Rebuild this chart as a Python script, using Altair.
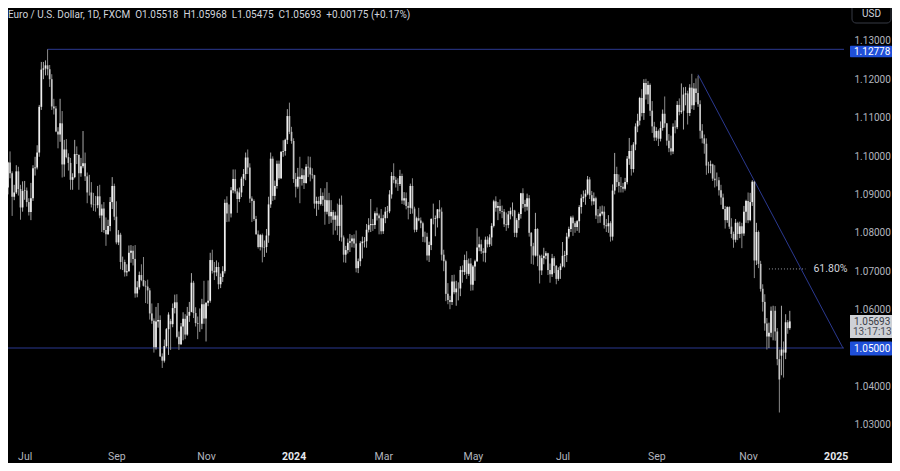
import altair as alt
import numpy as np
import pandas as pd

# ---------------- data (EUR/USD daily, FXCM) ----------------
opens = [
    1.0922, 1.0918, 1.0983, 1.0955,
    1.0894, 1.0905, 1.0960, 1.0914, 1.0866,
    1.0909, 1.0910, 1.0880, 1.0854, 1.0890,
    1.0968, 1.0970, 1.1009, 1.1128, 1.1225,
    1.1228, 1.1236, 1.1226, 1.1200, 1.1129,
    1.1124, 1.1064, 1.1056, 1.1085, 1.0978,
    1.1017, 1.0997, 1.0982, 1.0938, 1.0945,
    1.1005, 1.1003, 1.0955, 1.0973, 1.0981,
    1.0947, 1.0905, 1.0905, 1.0874, 1.0873,
    1.0872, 1.0895, 1.0845, 1.0863, 1.0807,
    1.0796, 1.0818, 1.0880, 1.0922, 1.0842,
    1.0775, 1.0795, 1.0724, 1.0724, 1.0697,
    1.0700, 1.0748, 1.0753, 1.0732, 1.0642,
    1.0658, 1.0690, 1.0677, 1.0662, 1.0660,
    1.0650, 1.0590, 1.0571, 1.0502, 1.0569,
    1.0573, 1.0478, 1.0467, 1.0505, 1.0549,
    1.0570, 1.0562, 1.0604, 1.0619, 1.0529,
    1.0510, 1.0556, 1.0576, 1.0535, 1.0584,
    1.0594, 1.0670, 1.0591, 1.0565, 1.0563,
    1.0563, 1.0614, 1.0577, 1.0618, 1.0623,
    1.0729, 1.0701, 1.0697, 1.0711, 1.0666,
    1.0685, 1.0700, 1.0878, 1.0850, 1.0850,
    1.0911, 1.0940, 1.0908, 1.0888, 1.0905,
    1.0941, 1.0953, 1.0996, 1.0970, 1.0889,
    1.0883, 1.0836, 1.0796, 1.0763, 1.0794,
    1.0762, 1.0763, 1.0793, 1.0874, 1.0993,
    1.0896, 1.0922, 1.0980, 1.0942, 1.1011,
    1.1013, 1.1042, 1.1104, 1.1063,
    1.1039, 1.0940, 1.0920, 1.0946,
    1.0940, 1.0950, 1.0930, 1.0972, 1.0970,
    1.0952, 1.0950, 1.0876, 1.0883, 1.0875,
    1.0896, 1.0886, 1.0855, 1.0885, 1.0843,
    1.0854, 1.0834, 1.0845, 1.0818, 1.0873,
    1.0788, 1.0743, 1.0755, 1.0774, 1.0778,
    1.0785, 1.0772, 1.0708, 1.0726, 1.0773,
    1.0777, 1.0778, 1.0808, 1.0820, 1.0823,
    1.0820, 1.0851, 1.0845, 1.0838, 1.0804,
    1.0838, 1.0855, 1.0856, 1.0900, 1.0948,
    1.0938, 1.0928, 1.0927, 1.0948, 1.0884,
    1.0890, 1.0870, 1.0865, 1.0922, 1.0863,
    1.0808, 1.0838, 1.0832, 1.0825, 1.0790,
    1.0790, 1.0741, 1.0768, 1.0836, 1.0836,
    1.0838, 1.0861, 1.0855, 1.0743, 1.0726,
    1.0641, 1.0625, 1.0620, 1.0673, 1.0645,
    1.0655, 1.0655, 1.0703, 1.0698, 1.0729,
    1.0693, 1.0720, 1.0665, 1.0712, 1.0726,
    1.0762, 1.0770, 1.0752, 1.0748, 1.0782,
    1.0770, 1.0788, 1.0818, 1.0882, 1.0865,
    1.0870, 1.0857, 1.0855, 1.0822, 1.0820,
    1.0848, 1.0857, 1.0858, 1.0800, 1.0833,
    1.0849, 1.0903, 1.0875, 1.0868, 1.0890,
    1.0800, 1.0765, 1.0741, 1.0810, 1.0740,
    1.0702, 1.0734, 1.0740, 1.0747, 1.0703,
    1.0692, 1.0734, 1.0714, 1.0680, 1.0703,
    1.0713, 1.0740, 1.0742, 1.0790, 1.0810,
    1.0840, 1.0825, 1.0815, 1.0830, 1.0867,
    1.0890, 1.0894, 1.0902, 1.0939, 1.0898,
    1.0882, 1.0890, 1.0845, 1.0843, 1.0850,
    1.0855, 1.0820, 1.0817, 1.0825, 1.0790,
    1.0910, 1.0953, 1.0932, 1.0922, 1.0920,
    1.0915, 1.0932, 1.0993, 1.1013, 1.0966,
    1.1030, 1.1077, 1.1092, 1.1151, 1.1112,
    1.1190, 1.1160, 1.1185, 1.1118, 1.1077,
    1.1048, 1.1065, 1.1045, 1.1073, 1.1110,
    1.1085, 1.1040, 1.1020, 1.1012, 1.1076,
    1.1075, 1.1133, 1.1115, 1.1118, 1.1160,
    1.1163, 1.1112, 1.1178, 1.1132, 1.1176,
    1.1164, 1.1135, 1.1066, 1.1046, 1.1032,
    1.0975, 1.0975, 1.0978, 1.0941, 1.0937,
    1.0937, 1.0911, 1.0892, 1.0862, 1.0833,
    1.0867, 1.0816, 1.0797, 1.0782, 1.0826,
    1.0797, 1.0817, 1.0798, 1.0855, 1.0883,
    1.0833, 1.0880, 1.0933, 1.0728, 1.0802,
    1.0719, 1.0654, 1.0620, 1.0564, 1.0530,
    1.0540, 1.0597, 1.0597, 1.0543, 1.0471,
    1.0480, 1.0496, 1.0488, 1.0567, 1.05518,
]
highs = [
    1.0935, 1.0985, 1.1012, 1.0960,
    1.0925, 1.0976, 1.0972, 1.0925, 1.0934,
    1.0935, 1.0918, 1.0890, 1.0930, 1.0976,
    1.0998, 1.1028, 1.1133, 1.1245, 1.1245,
    1.1249, 1.12778, 1.1237, 1.1213, 1.1149,
    1.1130, 1.1075, 1.1149, 1.1117, 1.1042,
    1.1044, 1.1007, 1.0995, 1.0955, 1.1042,
    1.1025, 1.1003, 1.0995, 1.1065, 1.1009,
    1.0957, 1.0951, 1.0932, 1.0904, 1.0896,
    1.0922, 1.0925, 1.0874, 1.0880, 1.0840,
    1.0834, 1.0893, 1.0945, 1.0928, 1.0882,
    1.0807, 1.0800, 1.0738, 1.0730, 1.0718,
    1.0767, 1.0768, 1.0766, 1.0768, 1.0674,
    1.0699, 1.0718, 1.0737, 1.0675, 1.0678,
    1.0656, 1.0616, 1.0577, 1.0607, 1.0617,
    1.0585, 1.0486, 1.0522, 1.0552, 1.0593,
    1.0576, 1.0616, 1.0639, 1.0640, 1.0543,
    1.0565, 1.0593, 1.0588, 1.0607, 1.0620,
    1.0695, 1.0675, 1.0606, 1.0582, 1.0603,
    1.0628, 1.0675, 1.0619, 1.0676, 1.0748,
    1.0756, 1.0724, 1.0728, 1.0723, 1.0694,
    1.0713, 1.0887, 1.0895, 1.0874, 1.0919,
    1.0965, 1.0965, 1.0915, 1.0918, 1.0946,
    1.0966, 1.1009, 1.1017, 1.0981, 1.0895,
    1.0887, 1.0844, 1.0806, 1.0797, 1.0798,
    1.0780, 1.0810, 1.0894, 1.1009, 1.0999,
    1.0936, 1.0988, 1.0988, 1.1012, 1.1041,
    1.1045, 1.1122, 1.1139, 1.1076,
    1.1046, 1.0956, 1.0969, 1.0998,
    1.0968, 1.0965, 1.0979, 1.0999, 1.0998,
    1.0968, 1.0951, 1.0894, 1.0894, 1.0916,
    1.0905, 1.0916, 1.0932, 1.0904, 1.0885,
    1.0859, 1.0855, 1.0876, 1.0889, 1.0897,
    1.0793, 1.0766, 1.0785, 1.0797, 1.0794,
    1.0796, 1.0806, 1.0733, 1.0778, 1.0790,
    1.0789, 1.0823, 1.0838, 1.0888, 1.0836,
    1.0856, 1.0866, 1.0850, 1.0862, 1.0847,
    1.0867, 1.0870, 1.0911, 1.0958, 1.0981,
    1.0946, 1.0942, 1.0964, 1.0954, 1.0906,
    1.0905, 1.0880, 1.0928, 1.0942, 1.0868,
    1.0842, 1.0865, 1.0840, 1.0829, 1.0803,
    1.0800, 1.0777, 1.0838, 1.0876, 1.0845,
    1.0862, 1.0885, 1.0866, 1.0756, 1.0730,
    1.0669, 1.0636, 1.0690, 1.0691, 1.0675,
    1.0671, 1.0713, 1.0715, 1.0743, 1.0752,
    1.0733, 1.0734, 1.0716, 1.0730, 1.0812,
    1.0790, 1.0782, 1.0760, 1.0790, 1.0791,
    1.0796, 1.0825, 1.0886, 1.0895, 1.0880,
    1.0887, 1.0871, 1.0862, 1.0853, 1.0857,
    1.0866, 1.0879, 1.0860, 1.0838, 1.0853,
    1.0904, 1.0916, 1.0886, 1.0902, 1.0898,
    1.0802, 1.0774, 1.0852, 1.0812, 1.0743,
    1.0743, 1.0761, 1.0752, 1.0748, 1.0720,
    1.0745, 1.0739, 1.0716, 1.0710, 1.0720,
    1.0776, 1.0753, 1.0800, 1.0816, 1.0844,
    1.0845, 1.0830, 1.0833, 1.0872, 1.0900,
    1.0910, 1.0912, 1.0948, 1.0945, 1.0909,
    1.0905, 1.0894, 1.0862, 1.0869, 1.0871,
    1.0869, 1.0836, 1.0846, 1.0830, 1.0926,
    1.1008, 1.0972, 1.0952, 1.0945, 1.0930,
    1.0943, 1.1000, 1.1047, 1.1028, 1.1036,
    1.1085, 1.1110, 1.1154, 1.1174, 1.1200,
    1.1201, 1.1195, 1.1189, 1.1143, 1.1089,
    1.1075, 1.1069, 1.1090, 1.1121, 1.1155,
    1.1086, 1.1057, 1.1053, 1.1085, 1.1093,
    1.1143, 1.1150, 1.1189, 1.1179, 1.1180,
    1.1170, 1.1187, 1.1214, 1.1190, 1.1202,
    1.1209, 1.1145, 1.1083, 1.1056, 1.1046,
    1.0985, 1.0988, 1.0980, 1.0976, 1.0957,
    1.0945, 1.0925, 1.0902, 1.0870, 1.0869,
    1.0869, 1.0838, 1.0803, 1.0836, 1.0829,
    1.0829, 1.0826, 1.0870, 1.0886, 1.0905,
    1.0904, 1.0937, 1.0935, 1.0826, 1.0806,
    1.0727, 1.0666, 1.0640, 1.0578, 1.0566,
    1.0608, 1.0610, 1.0609, 1.0552, 1.0496,
    1.0610, 1.0517, 1.0588, 1.0573, 1.05968,
]
lows = [
    1.0896, 1.0900, 1.0942, 1.0844,
    1.0885, 1.0901, 1.0897, 1.0834, 1.0855,
    1.0886, 1.0868, 1.0845, 1.0833, 1.0883,
    1.0949, 1.0965, 1.0998, 1.1120, 1.1200,
    1.1210, 1.1210, 1.1180, 1.1120, 1.1108,
    1.1062, 1.1020, 1.1037, 1.0944, 1.0946,
    1.0994, 1.0962, 1.0912, 1.0912, 1.0942,
    1.0979, 1.0912, 1.0946, 1.0968, 1.0935,
    1.0877, 1.0897, 1.0866, 1.0857, 1.0855,
    1.0864, 1.0838, 1.0802, 1.0800, 1.0766,
    1.0795, 1.0804, 1.0862, 1.0833, 1.0770,
    1.0768, 1.0705, 1.0703, 1.0686, 1.0687,
    1.0699, 1.0722, 1.0715, 1.0631, 1.0632,
    1.0652, 1.0674, 1.0660, 1.0617, 1.0615,
    1.0574, 1.0563, 1.0488, 1.0496, 1.0553,
    1.0477, 1.0448, 1.0462, 1.0501, 1.0482,
    1.0495, 1.0554, 1.0590, 1.0525, 1.0495,
    1.0508, 1.0520, 1.0523, 1.0532, 1.0568,
    1.0593, 1.0578, 1.0556, 1.0523, 1.0542,
    1.0549, 1.0563, 1.0517, 1.0609, 1.0618,
    1.0694, 1.0677, 1.0687, 1.0653, 1.0656,
    1.0672, 1.0694, 1.0828, 1.0829, 1.0840,
    1.0903, 1.0902, 1.0852, 1.0880, 1.0893,
    1.0922, 1.0937, 1.0953, 1.0878, 1.0828,
    1.0831, 1.0795, 1.0759, 1.0754, 1.0723,
    1.0737, 1.0748, 1.0774, 1.0865, 1.0883,
    1.0886, 1.0915, 1.0938, 1.0940, 1.0998,
    1.1001, 1.1031, 1.1057, 1.1032,
    1.0930, 1.0892, 1.0915, 1.0877,
    1.0923, 1.0914, 1.0928, 1.0945, 1.0934,
    1.0941, 1.0863, 1.0844, 1.0860, 1.0871,
    1.0870, 1.0821, 1.0848, 1.0823, 1.0826,
    1.0795, 1.0806, 1.0794, 1.0779, 1.0777,
    1.0723, 1.0722, 1.0746, 1.0750, 1.0762,
    1.0761, 1.0697, 1.0695, 1.0713, 1.0733,
    1.0762, 1.0761, 1.0801, 1.0802, 1.0805,
    1.0810, 1.0832, 1.0796, 1.0796, 1.0797,
    1.0825, 1.0838, 1.0851, 1.0889, 1.0929,
    1.0918, 1.0909, 1.0922, 1.0875, 1.0873,
    1.0861, 1.0835, 1.0849, 1.0850, 1.0801,
    1.0802, 1.0830, 1.0812, 1.0776, 1.0775,
    1.0728, 1.0724, 1.0755, 1.0822, 1.0791,
    1.0814, 1.0838, 1.0728, 1.0700, 1.0622,
    1.0614, 1.0601, 1.0612, 1.0640, 1.0610,
    1.0624, 1.0635, 1.0670, 1.0690, 1.0680,
    1.0688, 1.0649, 1.0650, 1.0675, 1.0724,
    1.0752, 1.0745, 1.0725, 1.0723, 1.0762,
    1.0763, 1.0766, 1.0814, 1.0855, 1.0833,
    1.0850, 1.0838, 1.0815, 1.0805, 1.0812,
    1.0835, 1.0843, 1.0789, 1.0788, 1.0812,
    1.0837, 1.0864, 1.0855, 1.0858, 1.0790,
    1.0719, 1.0717, 1.0738, 1.0713, 1.0668,
    1.0690, 1.0718, 1.0731, 1.0690, 1.0670,
    1.0685, 1.0695, 1.0666, 1.0675, 1.0680,
    1.0710, 1.0710, 1.0724, 1.0785, 1.0802,
    1.0792, 1.0800, 1.0805, 1.0800, 1.0850,
    1.0880, 1.0873, 1.0898, 1.0888, 1.0871,
    1.0873, 1.0836, 1.0825, 1.0826, 1.0845,
    1.0811, 1.0802, 1.0800, 1.0777, 1.0780,
    1.0900, 1.0919, 1.0905, 1.0905, 1.0905,
    1.0910, 1.0926, 1.0977, 1.0949, 1.0957,
    1.1015, 1.1062, 1.1080, 1.1103, 1.1094,
    1.1147, 1.1135, 1.1104, 1.1060, 1.1039,
    1.1040, 1.1026, 1.1038, 1.1066, 1.1074,
    1.1027, 1.1010, 1.1002, 1.1005, 1.1059,
    1.1070, 1.1106, 1.1110, 1.1069, 1.1132,
    1.1082, 1.1104, 1.1122, 1.1120, 1.1140,
    1.1128, 1.1045, 1.1033, 1.1006, 1.0951,
    1.0955, 1.0955, 1.0935, 1.0918, 1.0921,
    1.0897, 1.0873, 1.0861, 1.0811, 1.0826,
    1.0810, 1.0786, 1.0761, 1.0775, 1.0781,
    1.0786, 1.0760, 1.0792, 1.0826, 1.0825,
    1.0830, 1.0870, 1.0682, 1.0716, 1.0708,
    1.0647, 1.0595, 1.0545, 1.0496, 1.0500,
    1.0528, 1.0520, 1.0519, 1.0455, 1.0332,
    1.0429, 1.0423, 1.0471, 1.0537, 1.05475,
]
closes = [
    1.0918, 1.0983, 1.0955, 1.0894,
    1.0905, 1.0960, 1.0914, 1.0866, 1.0909,
    1.0910, 1.0880, 1.0854, 1.0890, 1.0968,
    1.0970, 1.1009, 1.1128, 1.1225, 1.1228,
    1.1236, 1.1226, 1.1200, 1.1129, 1.1124,
    1.1064, 1.1056, 1.1085, 1.0978, 1.1017,
    1.0997, 1.0982, 1.0938, 1.0945, 1.1005,
    1.1003, 1.0955, 1.0973, 1.0981, 1.0947,
    1.0905, 1.0905, 1.0874, 1.0873, 1.0872,
    1.0895, 1.0845, 1.0863, 1.0807, 1.0796,
    1.0818, 1.0880, 1.0922, 1.0842, 1.0775,
    1.0795, 1.0724, 1.0724, 1.0697, 1.0700,
    1.0748, 1.0753, 1.0732, 1.0642, 1.0658,
    1.0690, 1.0677, 1.0662, 1.0660, 1.0650,
    1.0590, 1.0571, 1.0502, 1.0569, 1.0573,
    1.0478, 1.0467, 1.0505, 1.0549, 1.0587,
    1.0562, 1.0604, 1.0619, 1.0529, 1.0510,
    1.0556, 1.0576, 1.0535, 1.0584, 1.0594,
    1.0670, 1.0591, 1.0565, 1.0563, 1.0563,
    1.0614, 1.0577, 1.0618, 1.0623, 1.0729,
    1.0701, 1.0697, 1.0711, 1.0666, 1.0685,
    1.0700, 1.0878, 1.0850, 1.0850, 1.0911,
    1.0940, 1.0908, 1.0888, 1.0905, 1.0941,
    1.0953, 1.0996, 1.0970, 1.0889, 1.0883,
    1.0836, 1.0796, 1.0763, 1.0794, 1.0762,
    1.0763, 1.0793, 1.0874, 1.0993, 1.0896,
    1.0922, 1.0980, 1.0942, 1.1011, 1.1013,
    1.1042, 1.1104, 1.1063, 1.1039,
    1.0940, 1.0920, 1.0946, 1.0940,
    1.0950, 1.0930, 1.0972, 1.0970, 1.0952,
    1.0950, 1.0876, 1.0883, 1.0875, 1.0896,
    1.0886, 1.0855, 1.0885, 1.0843, 1.0854,
    1.0834, 1.0845, 1.0818, 1.0873, 1.0788,
    1.0743, 1.0755, 1.0774, 1.0778, 1.0785,
    1.0772, 1.0708, 1.0726, 1.0773, 1.0777,
    1.0778, 1.0808, 1.0820, 1.0823, 1.0820,
    1.0851, 1.0845, 1.0838, 1.0804, 1.0838,
    1.0855, 1.0856, 1.0900, 1.0948, 1.0938,
    1.0928, 1.0927, 1.0948, 1.0884, 1.0890,
    1.0870, 1.0865, 1.0922, 1.0863, 1.0808,
    1.0838, 1.0832, 1.0825, 1.0790, 1.0790,
    1.0741, 1.0768, 1.0836, 1.0836, 1.0838,
    1.0861, 1.0855, 1.0743, 1.0726, 1.0641,
    1.0625, 1.0620, 1.0673, 1.0645, 1.0655,
    1.0655, 1.0703, 1.0698, 1.0729, 1.0693,
    1.0720, 1.0665, 1.0712, 1.0726, 1.0762,
    1.0770, 1.0752, 1.0748, 1.0782, 1.0770,
    1.0788, 1.0818, 1.0882, 1.0865, 1.0870,
    1.0857, 1.0855, 1.0822, 1.0820, 1.0848,
    1.0857, 1.0858, 1.0800, 1.0833, 1.0849,
    1.0903, 1.0875, 1.0868, 1.0890, 1.0800,
    1.0765, 1.0741, 1.0810, 1.0740, 1.0702,
    1.0734, 1.0740, 1.0747, 1.0703, 1.0692,
    1.0734, 1.0714, 1.0680, 1.0703, 1.0713,
    1.0740, 1.0742, 1.0790, 1.0810, 1.0840,
    1.0825, 1.0815, 1.0830, 1.0867, 1.0890,
    1.0894, 1.0902, 1.0939, 1.0898, 1.0882,
    1.0890, 1.0845, 1.0843, 1.0850, 1.0855,
    1.0820, 1.0817, 1.0825, 1.0790, 1.0910,
    1.0953, 1.0932, 1.0922, 1.0920, 1.0915,
    1.0932, 1.0993, 1.1013, 1.0966, 1.1030,
    1.1077, 1.1092, 1.1151, 1.1112, 1.1190,
    1.1160, 1.1185, 1.1118, 1.1077, 1.1048,
    1.1065, 1.1045, 1.1073, 1.1110, 1.1085,
    1.1040, 1.1020, 1.1012, 1.1076, 1.1075,
    1.1133, 1.1115, 1.1118, 1.1160, 1.1163,
    1.1112, 1.1178, 1.1132, 1.1176, 1.1164,
    1.1135, 1.1066, 1.1046, 1.1032, 1.0975,
    1.0975, 1.0978, 1.0941, 1.0937, 1.0937,
    1.0911, 1.0892, 1.0862, 1.0833, 1.0867,
    1.0816, 1.0797, 1.0782, 1.0826, 1.0797,
    1.0817, 1.0798, 1.0855, 1.0883, 1.0833,
    1.0880, 1.0933, 1.0728, 1.0802, 1.0719,
    1.0654, 1.0620, 1.0564, 1.0530, 1.0540,
    1.0597, 1.0597, 1.0543, 1.0471, 1.0418,
    1.0496, 1.0488, 1.0567, 1.05518, 1.05693,
]

first_session = "2023-06-20"
no_session_days = ["2023-12-25", "2024-01-01", "2024-12-25", "2025-01-01"]

price_ticks = [1.03, 1.04, 1.05, 1.06, 1.07, 1.08, 1.09, 1.10, 1.11, 1.12, 1.13]
month_ticks = ["2023-07", "2023-09", "2023-11", "2024-01", "2024-03",
               "2024-05", "2024-07", "2024-09", "2024-11", "2025-01"]

resistance_level = 1.12778
resistance_from = "2023-07-18"
support_level = 1.05
trend_from_day = "2024-09-30"
trend_from_price = 1.1212
trend_to_index = 401.5
trend_to_price = 1.05
fib_swing_high = 1.0937
fib_swing_low = 1.0332
fib_ratio = 0.618
fib_from_day = "2024-11-15"
fib_label = "61.80%"
countdown = "13:17:13"
header = ("Euro / U.S. Dollar, 1D, FXCM\u00a0 O1.05518\u00a0 H1.05968\u00a0 "
          "L1.05475\u00a0 C1.05693\u00a0 +0.00175 (+0.17%)")

# ---------------- view settings ----------------
W, H = 836, 430
PAD_R, PAD_B = 48, 25
x_view = [3.41, 399.6]          # visible range, in session index
y_view = [1.0265625, 1.138542]

BG = "#000000"
TXT = "#d1d4dc"
AX = "#b2b5be"
LINE_BLUE = "#2b3990"
BOX_BLUE = "#1f4fd8"
FONT = "Roboto"

# ---------------- build tables ----------------
days = pd.bdate_range(first_session, periods=430)
days = days[~days.isin(pd.to_datetime(no_session_days))]
n = len(closes)
df = pd.DataFrame({"i": np.arange(n), "open": opens, "high": highs,
                   "low": lows, "close": closes})
df["up"] = df["close"] >= df["open"]


def idx(day):
    return int(np.where(days == pd.Timestamp(day))[0][0])


ym = days.strftime("%Y-%m")
tick_idx, tick_txt = [], []
for m in month_ticks:
    k = int(np.where(ym == m)[0][0])
    tick_idx.append(k)
    d = days[k]
    tick_txt.append(str(d.year) if d.month == 1 else d.strftime("%b"))

label_expr = " : ".join(f"datum.value == {k} ? '{t}'" for k, t in zip(tick_idx, tick_txt)) + " : ''"
year_test = " || ".join(f"datum.value == {k}" for k, t in zip(tick_idx, tick_txt) if t.isdigit())

xs = alt.Scale(domain=x_view, nice=False, zero=False)
ys = alt.Scale(domain=y_view, nice=False, zero=False)

x_axis = alt.Axis(values=tick_idx, labelExpr=label_expr, title=None, grid=False,
                  ticks=False, domain=False, labelPadding=13, labelFontSize=10.5,
                  labelFont=FONT, labelFlush=False, labelOverlap=False,
                  labelColor={"condition": {"test": year_test, "value": "#e6e8ee"}, "value": AX},
                  labelFontWeight={"condition": {"test": year_test, "value": "bold"}, "value": "normal"})
y_axis = alt.Axis(orient="right", values=price_ticks, format=".5f", title=None,
                  grid=False, ticks=False, domain=False, labelAlign="left",
                  labelPadding=10, labelFontSize=10, labelFont=FONT, labelColor=AX,
                  labelBaseline="middle")

base = alt.Chart(df)
wicks = base.mark_rule(strokeWidth=1, clip=True).encode(
    x=alt.X("i:Q", scale=xs, axis=x_axis),
    y=alt.Y("low:Q", scale=ys, axis=y_axis),
    y2="high:Q",
    color=alt.condition("datum.up", alt.value("#a8a8a8"), alt.value("#8a8a8a")),
)
bodies = base.mark_bar(size=1.7, clip=True).encode(
    x=alt.X("i:Q", scale=xs),
    y=alt.Y("open:Q", scale=ys),
    y2="close:Q",
    color=alt.condition("datum.up", alt.value("#f0f0f0"), alt.value("#c4c4c4")),
)

res_df = pd.DataFrame({"i": [idx(resistance_from)], "p": [resistance_level],
                       "t": [f"{resistance_level:.5f}"]})
res_line = alt.Chart(res_df).mark_rule(color=LINE_BLUE, strokeWidth=1).encode(
    x=alt.X("i:Q", scale=xs), x2=alt.value(W), y=alt.Y("p:Q", scale=ys))

sup_df = pd.DataFrame({"p": [support_level], "t": [f"{support_level:.5f}"]})
sup_line = alt.Chart(sup_df).mark_rule(color=LINE_BLUE, strokeWidth=1).encode(
    x=alt.value(0), x2=alt.value(W), y=alt.Y("p:Q", scale=ys))

trend_df = pd.DataFrame({"i": [idx(trend_from_day)], "p": [trend_from_price],
                         "i2": [trend_to_index], "p2": [trend_to_price]})
trend = alt.Chart(trend_df).mark_rule(color=LINE_BLUE, strokeWidth=1, clip=True).encode(
    x=alt.X("i:Q", scale=xs), x2="i2:Q", y=alt.Y("p:Q", scale=ys), y2="p2:Q")

fib_level = fib_swing_low + fib_ratio * (fib_swing_high - fib_swing_low)
fib_df = pd.DataFrame({"i": [idx(fib_from_day)], "i2": [idx(fib_from_day) + 17.5],
                       "p": [fib_level], "t": [fib_label]})
fib_line = alt.Chart(fib_df).mark_rule(color="#9598a1", strokeWidth=1, strokeDash=[1, 2]).encode(
    x=alt.X("i:Q", scale=xs), x2="i2:Q", y=alt.Y("p:Q", scale=ys))
fib_text = alt.Chart(fib_df).mark_text(align="left", baseline="middle", dx=8, fontSize=10.5,
                                       font=FONT, color=TXT).encode(
    x=alt.X("i2:Q", scale=xs), y=alt.Y("p:Q", scale=ys), text="t:N")


def price_tag(tag_df, top, bottom):
    box = alt.Chart(tag_df).mark_rect(color=BOX_BLUE, yOffset=top, y2Offset=bottom,
                                      cornerRadius=1).encode(
        x=alt.value(W + 6), x2=alt.value(W + PAD_R), y=alt.Y("p:Q", scale=ys), y2="p:Q")
    txt = alt.Chart(tag_df).mark_text(align="left", baseline="middle", fontSize=10,
                                      font=FONT, color="#ffffff",
                                      dy=(top + bottom) / 2).encode(
        x=alt.value(W + 10), y=alt.Y("p:Q", scale=ys), text="t:N")
    return box, txt


res_box, res_txt = price_tag(res_df, -3.5, 8)
sup_box, sup_txt = price_tag(sup_df, -6.5, 7.5)

last_df = pd.DataFrame({"p": [closes[-1]], "t": [f"{closes[-1]:.5f}"], "c": [countdown]})
last_box = alt.Chart(last_df).mark_rect(color="#cfd1d6", yOffset=-6.5, y2Offset=16.5).encode(
    x=alt.value(W + 6), x2=alt.value(W + PAD_R), y=alt.Y("p:Q", scale=ys), y2="p:Q")
last_t1 = alt.Chart(last_df).mark_text(align="left", baseline="middle", fontSize=10,
                                       font=FONT, color="#3a3d46", dy=0.5).encode(
    x=alt.value(W + 10), y=alt.Y("p:Q", scale=ys), text="t:N")
last_t2 = alt.Chart(last_df).mark_text(align="left", baseline="middle", fontSize=10,
                                       font=FONT, color="#4a4d56", dy=11).encode(
    x=alt.value(W + 9), y=alt.Y("p:Q", scale=ys), text="c:N")

hdr_df = pd.DataFrame({"t": [header]})
hdr = alt.Chart(hdr_df).mark_text(align="left", baseline="middle", fontSize=10,
                                  font=FONT, color=TXT).encode(
    x=alt.value(0), y=alt.value(6.5), text="t:N")

usd_df = pd.DataFrame({"t": ["USD"]})
usd_box = alt.Chart(usd_df).mark_rect(fill=BG, stroke="#363a45", strokeWidth=1,
                                      cornerRadius=4).encode(
    x=alt.value(W + 8), x2=alt.value(W + PAD_R - 1), y=alt.value(-6), y2=alt.value(15))
usd_text = alt.Chart(usd_df).mark_text(align="center", baseline="middle", fontSize=10,
                                       font=FONT, color=TXT).encode(
    x=alt.value(W + 27.5), y=alt.value(6), text="t:N")

chart = alt.layer(
    res_line, sup_line, trend, fib_line, fib_text,
    wicks, bodies,
    res_box, res_txt, sup_box, sup_txt, last_box, last_t1, last_t2,
    hdr, usd_box, usd_text,
).properties(
    width=W, height=H,
    padding={"left": 0, "top": 0, "right": PAD_R, "bottom": PAD_B},
    autosize=alt.AutoSizeParams(type="none"),
    background=BG,
).configure_view(stroke=None)

chart.save("out.html", embed_options={"renderer": "svg", "actions": False})
